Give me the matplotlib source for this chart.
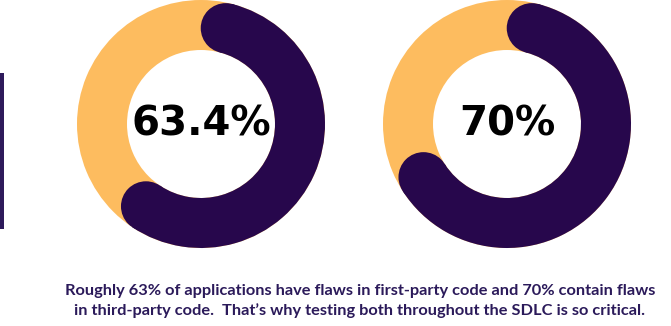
import numpy as np
import matplotlib.pyplot as plt
from matplotlib.patches import Wedge, Circle, Rectangle

# values shown in the two donuts (percent)
values = [63.4, 70]
labels = ["63.4%", "70%"]
caption = ("Roughly 63% of applications have flaws in first-party code and 70% contain flaws\n"
           "in third-party code.  That\u2019s why testing both throughout the SDLC is so critical.")

yellow = "#FDBC5F"
dark = "#27074C"
text_purple = "#2B1A5A"

W, H = 671, 326
fig = plt.figure(figsize=(W / 100, H / 100), dpi=100)
ax = fig.add_axes([0, 0, 1, 1])
ax.set_xlim(0, W)
ax.set_ylim(H, 0)
ax.set_aspect("equal")
ax.axis("off")

centers = [(201, 124), (507, 124)]
R, width = 124, 50
mid = R - width / 2
cap = np.degrees((width / 2) / mid)

for (cx, cy), v, lab in zip(centers, values, labels):
    # y axis is inverted, so angles run clockwise on screen
    ax.add_patch(Wedge((cx, cy), R, 0, 360, width=width, color=yellow, lw=0))
    sweep = v / 100 * 360
    a0 = -90 + cap
    a1 = -90 + sweep - cap
    ax.add_patch(Wedge((cx, cy), R, a0, a1, width=width, color=dark, lw=0))
    for a in (a0, a1):
        t = np.radians(a)
        ax.add_patch(Circle((cx + mid * np.cos(t), cy + mid * np.sin(t)), width / 2,
                            color=dark, lw=0))
    ax.text(cx, cy + 1, lab, ha="center", va="center", fontsize=29,
            fontweight="bold", color="black", family="DejaVu Sans")

ax.add_patch(Rectangle((0, 73), 4, 156, color="#2E1A5B", lw=0))

ax.text(360, 301, caption, ha="center", va="center", fontsize=11.8,
        fontweight="bold", color=text_purple, family="Lato", linespacing=1.38)

fig.savefig("out.png", dpi=100)
